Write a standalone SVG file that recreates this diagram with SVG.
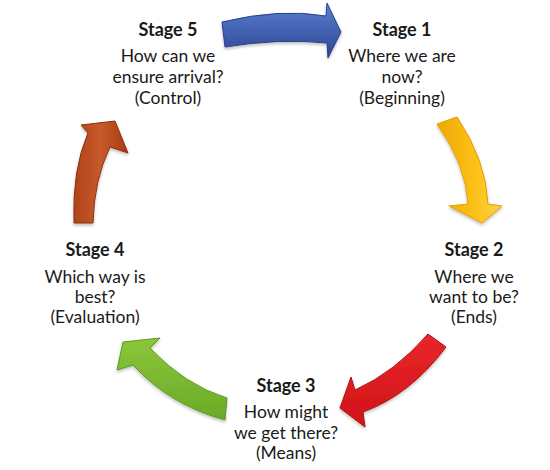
<svg xmlns="http://www.w3.org/2000/svg" width="550" height="470" viewBox="0 0 550 470">
<style>
  text { font-family: Lato, "Open Sans", "Liberation Sans", sans-serif; fill: #1a1a1a; text-anchor: middle; }
  .h { font-weight: bold; font-size: 18px; }
  .b { font-size: 17.5px; }
  .arrow { stroke-width: 1; filter: url(#sh); }
</style>
<defs>
  <filter id="sh" x="-20%" y="-20%" width="140%" height="140%">
    <feDropShadow dx="0" dy="2" stdDeviation="1.5" flood-color="#000" flood-opacity="0.25"/>
  </filter>
  <linearGradient id="gBlue" x1="0" y1="0" x2="0" y2="1">
    <stop offset="0" stop-color="#5b7fcf"/>
    <stop offset="1" stop-color="#2b4594"/>
  </linearGradient>
  <linearGradient id="gYellow" x1="0" y1="0" x2="1" y2="0">
    <stop offset="0" stop-color="#f0a800"/>
    <stop offset="0.6" stop-color="#fbc21a"/>
    <stop offset="1" stop-color="#ffd24a"/>
  </linearGradient>
  <linearGradient id="gRed" x1="0" y1="0" x2="0" y2="1">
    <stop offset="0" stop-color="#e8262a"/>
    <stop offset="1" stop-color="#d01418"/>
  </linearGradient>
  <linearGradient id="gGreen" x1="0" y1="0" x2="0" y2="1">
    <stop offset="0" stop-color="#8cc63a"/>
    <stop offset="1" stop-color="#6aaa28"/>
  </linearGradient>
  <linearGradient id="gOrange" x1="0" y1="0" x2="1" y2="0">
    <stop offset="0" stop-color="#b0431a"/>
    <stop offset="0.5" stop-color="#c85a2a"/>
    <stop offset="1" stop-color="#a83c15"/>
  </linearGradient>
</defs>
<rect width="550" height="470" fill="#ffffff"/>

<g id="connectors">
  <path class="arrow" fill="url(#gBlue)" stroke="#2a4088" d="M 222,22 Q 280,8 326,16 L 327,3 L 341,32 L 328,58 L 327,43 Q 280,38 225,47 Z"/>
  <path class="arrow" fill="url(#gYellow)" stroke="#e0a000" d="M 437,124 L 457,117 Q 486,160 488,204 L 502,206 L 482,223 L 449,206 L 468,204 Q 466,165 437,124 Z"/>
  <path class="arrow" fill="url(#gRed)" stroke="#b01010" d="M 446,347 Q 410,395 363,412 L 365,427 L 340,408 L 351,377 L 355,390 Q 395,372 428,334 Z"/>
  <path class="arrow" fill="url(#gGreen)" stroke="#5a9a20" d="M 227,398 Q 185,385 150,348 L 160,338 L 123,342 L 117,370 L 133,365 Q 170,405 225,420 Z"/>
  <path class="arrow" fill="url(#gOrange)" stroke="#8a3010" d="M 74,223 Q 72,170 88,133 L 81,125 L 115,121 L 128,153 L 110,147 Q 94,180 93,223 Z"/>
</g>

<g id="stage5">
  <text class="h" x="168" y="36">Stage 5</text>
  <text class="b" x="168" y="62">How can  we</text>
  <text class="b" x="168" y="83">ensure arrival?</text>
  <text class="b" x="168" y="104">(Control)</text>
</g>
<g id="stage1">
  <text class="h" x="402" y="36">Stage 1</text>
  <text class="b" x="402" y="62">Where we are</text>
  <text class="b" x="402" y="83">now?</text>
  <text class="b" x="402" y="104">(Beginning)</text>
</g>
<g id="stage2">
  <text class="h" x="474" y="256">Stage 2</text>
  <text class="b" x="474" y="283">Where we</text>
  <text class="b" x="474" y="303">want to be?</text>
  <text class="b" x="474" y="323">(Ends)</text>
</g>
<g id="stage3">
  <text class="h" x="286" y="392">Stage 3</text>
  <text class="b" x="286" y="418">How might</text>
  <text class="b" x="286" y="439">we get there?</text>
  <text class="b" x="286" y="459">(Means)</text>
</g>
<g id="stage4">
  <text class="h" x="95" y="256">Stage 4</text>
  <text class="b" x="95" y="283">Which way  is</text>
  <text class="b" x="95" y="303">best?</text>
  <text class="b" x="95" y="323">(Evaluation)</text>
</g>
</svg>
